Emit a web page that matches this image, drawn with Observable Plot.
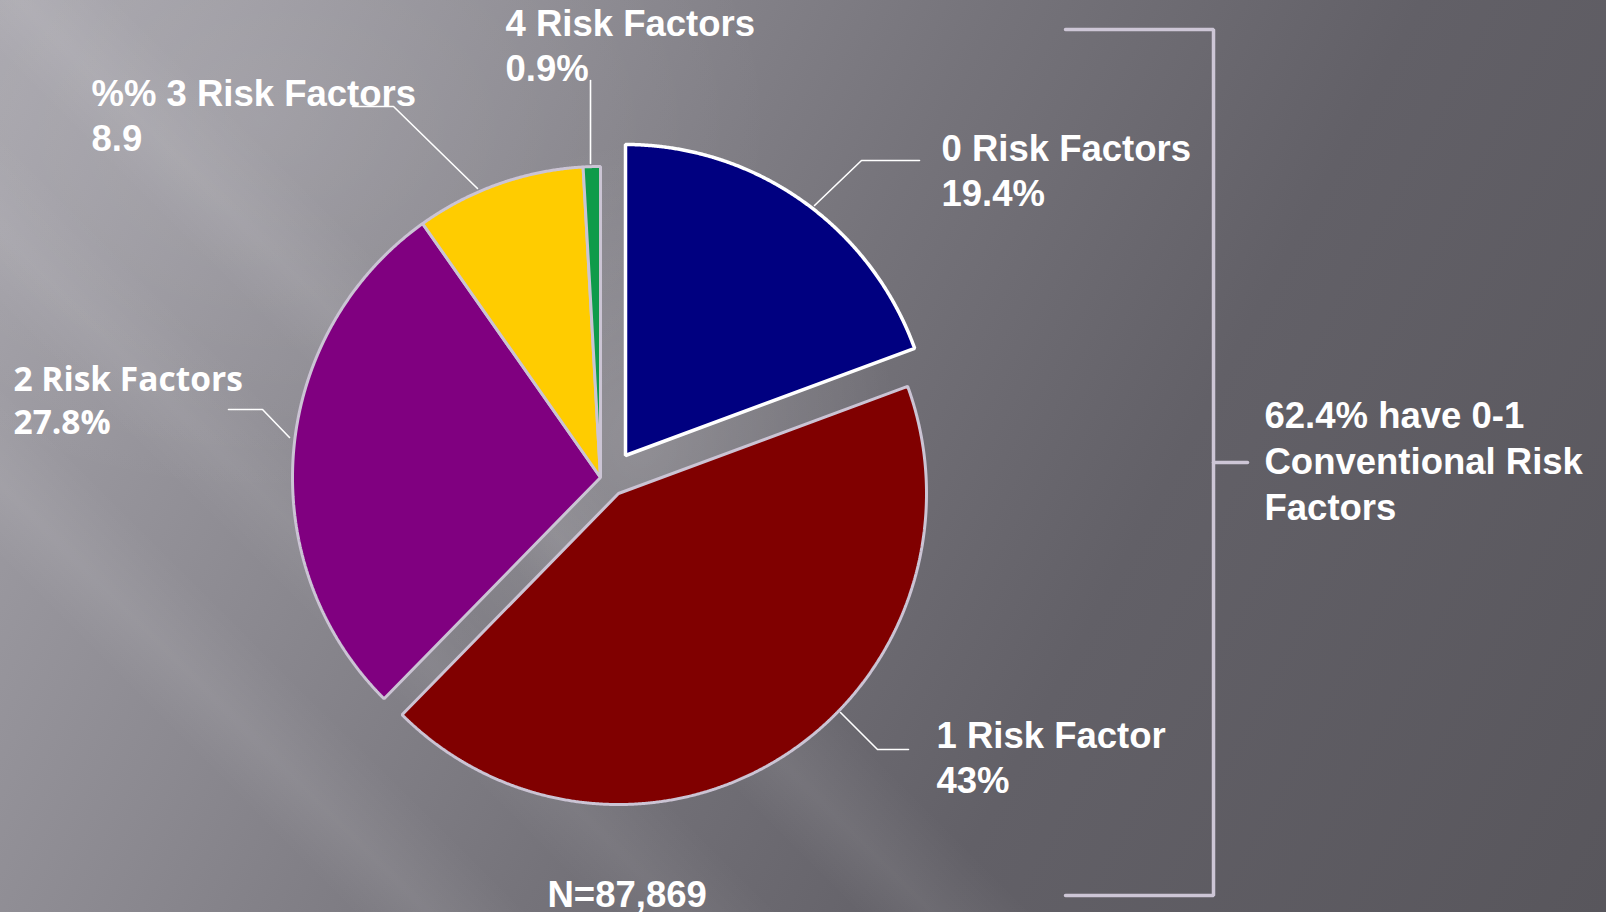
<!DOCTYPE html>
<html><head><meta charset="utf-8">
<script src="https://cdn.jsdelivr.net/npm/d3@7"></script>
<script src="https://cdn.jsdelivr.net/npm/@observablehq/plot@0.6"></script>
<style>
html,body{margin:0;padding:0;width:1606px;height:912px;overflow:hidden;}
body{
  background:
    radial-gradient(ellipse 260px 300px at 640px 440px, rgba(255,255,255,0.16), rgba(255,255,255,0) 100%),
    radial-gradient(ellipse 520px 380px at 260px 120px, rgba(255,255,255,0.10), rgba(255,255,255,0) 100%),
    linear-gradient(45deg,
      rgba(255,255,255,0) 0%, rgba(255,255,255,0) 14%,
      rgba(255,255,255,0.07) 17%, rgba(255,255,255,0) 21%,
      rgba(255,255,255,0) 24%, rgba(255,255,255,0.06) 27%, rgba(255,255,255,0) 31%,
      rgba(255,255,255,0) 34%, rgba(255,255,255,0.07) 37%, rgba(255,255,255,0) 41%,
      rgba(255,255,255,0) 100%),
    linear-gradient(118deg, #a8a6ad 0%, #8b8990 28%, #75737a 48%, #626067 68%, #58565c 100%);
}
#chart svg{display:block;}
</style></head>
<body><div id="chart"></div>
<script>
// ---- data ----
const categories = ["0 Risk Factors", "1 Risk Factor", "2 Risk Factors", "3 Risk Factors", "4 Risk Factors"];
const percents = [19.4, 43, 27.8, 8.9, 0.9];
const sliceColors = ["#000080", "#800000", "#800080", "#ffcc00", "#0f9b4a"];
const labelTexts = ["0 Risk Factors\n19.4%", "1 Risk Factor\n43%", "2 Risk Factors\n27.8%", "%% 3 Risk Factors\n8.9", "4 Risk Factors\n0.9%"];
const sampleNote = "N=87,869";
const bracketNote = "62.4% have 0-1\nConventional Risk\nFactors";

// ---- layout (pixels) ----
const W = 1606, H = 912;
const pieCenter = [600, 477];
const pieRadiusX = 308, pieRadiusY = 311;
const explodeOffsets = [[25, -22], [18, 16], [0, 0], [0, 0], [0, 0]];
const labelAnchors = [[941, 205], [936, 792], [13, 433], [91, 150], [505, 80]];
const leaderPaths = [
  [[919, 160], [861, 160], [814, 205]],
  [[908, 749], [877, 749], [840, 712]],
  [[228, 409], [262, 409], [289, 437]],
  [[352, 106], [393, 106], [477, 188]],
  [[590, 80], [590, 163]]
];
const bracketPath = [[1065, 29], [1213, 29], [1213, 895], [1065, 895]];
const bracketTick = [[1213, 462], [1247, 462]];

// ---- geometry from values ----
const arcs = d3.pie().sort(null).value(d => d)(percents);
const slicePoints = arcs.flatMap((a, i) => {
  const cx = pieCenter[0] + explodeOffsets[i][0];
  const cy = pieCenter[1] + explodeOffsets[i][1];
  const pts = [{name: categories[i], x: cx, y: cy}];
  const n = Math.max(2, Math.ceil((a.endAngle - a.startAngle) / 0.004));
  for (let k = 0; k <= n; k++) {
    const t = a.startAngle + (a.endAngle - a.startAngle) * k / n;
    pts.push({name: categories[i], x: cx + pieRadiusX * Math.sin(t), y: cy - pieRadiusY * Math.cos(t)});
  }
  return pts;
});

const leaderPoints = leaderPaths.flatMap((p, i) => p.map(([x, y]) => ({id: i, x, y})));
const bracketPoints = [
  ...bracketPath.map(([x, y]) => ({id: "b", x, y})),
  ...bracketTick.map(([x, y]) => ({id: "t", x, y}))
];

const labels = categories.map((c, i) => ({name: c, text: labelTexts[i], x: labelAnchors[i][0], y: labelAnchors[i][1]}));
const arialLabels = labels.filter(d => d.name !== "2 Risk Factors");
const otherLabels = labels.filter(d => d.name === "2 Risk Factors");
const notes = [
  {text: sampleNote, x: 547, y: 906},
  {text: bracketNote, x: 1264, y: 519}
];

const chart = Plot.plot({
  width: W, height: H,
  margin: 0,
  style: {background: "none", overflow: "visible"},
  x: {domain: [0, W], range: [0, W], axis: null},
  y: {domain: [0, H], range: [0, H], axis: null},
  color: {domain: categories, range: sliceColors},
  marks: [
    Plot.line(slicePoints.filter(d => d.name !== categories[0]), {
      x: "x", y: "y", z: "name", fill: "name", curve: "linear-closed",
      stroke: "#cbc4d4", strokeWidth: 3, strokeLinejoin: "miter"
    }),
    Plot.line(slicePoints.filter(d => d.name === categories[0]), {
      x: "x", y: "y", z: "name", fill: "name", curve: "linear-closed",
      stroke: "#ffffff", strokeWidth: 3.5, strokeLinejoin: "miter"
    }),
    Plot.line(leaderPoints, {x: "x", y: "y", z: "id", stroke: "#ffffff", strokeWidth: 1.6}),
    Plot.line(bracketPoints, {x: "x", y: "y", z: "id", stroke: "#cdc6d6", strokeWidth: 3.5, strokeLinejoin: "miter"}),
    Plot.text(arialLabels, {
      x: "x", y: "y", text: "text", textAnchor: "start", lineAnchor: "bottom", lineHeight: 1.21,
      fill: "#ffffff", fontSize: 36.5, fontWeight: "bold", fontFamily: "Liberation Sans, Arial, sans-serif"
    }),
    Plot.text(otherLabels, {
      x: "x", y: "y", text: "text", textAnchor: "start", lineAnchor: "bottom", lineHeight: 1.27,
      fill: "#ffffff", fontSize: 33.5, fontWeight: "bold", fontFamily: "Open Sans, sans-serif"
    }),
    Plot.text(notes, {
      x: "x", y: "y", text: "text", textAnchor: "start", lineAnchor: "bottom", lineHeight: 1.25,
      fill: "#ffffff", fontSize: 36.5, fontWeight: "bold", fontFamily: "Liberation Sans, Arial, sans-serif"
    })
  ]
});
document.getElementById("chart").appendChild(chart);
</script>
</body></html>
